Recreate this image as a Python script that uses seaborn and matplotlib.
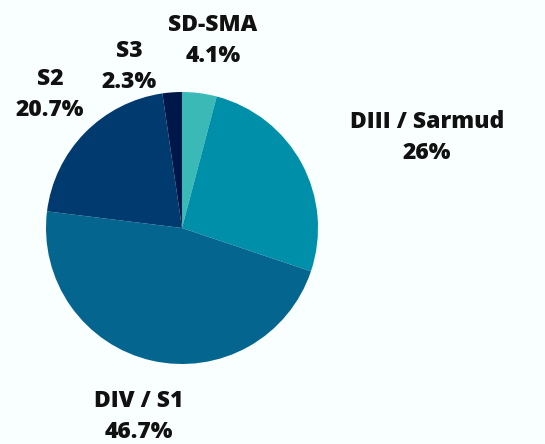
import matplotlib.pyplot as plt
import numpy as np
import seaborn as sns

# Data
categories = ['SD-SMA', 'DIII / Sarmud', 'DIV / S1', 'S2', 'S3']
shares = [4.1, 26, 46.7, 20.7, 2.3]
value_labels = ['4.1%', '26%', '46.7%', '20.7%', '2.3%']

colors = sns.color_palette(['#3bb9b7', '#008fa8', '#04668f', '#003a6e', '#001849'])
# label distance (in radii) and extra angle shift per slice
label_dist = [1.40, 1.92, 1.42, 1.38, 1.25]
label_shift = [-2, -8, 0, -1, 14]

sns.set_theme(style='white')
plt.rcParams['font.family'] = ['Open Sans', 'DejaVu Sans']
bg = '#f9feff'

fig = plt.figure(figsize=(5.45, 4.44), dpi=100, facecolor=bg)
W, H = 545, 444
cx, cy, r = 182, 216, 136
ax = fig.add_axes([(cx - r) / W, (cy - r) / H, 2 * r / W, 2 * r / H])
ax.set_facecolor(bg)

wedges, _ = ax.pie(shares, colors=colors, startangle=90, counterclock=False,
                   radius=1, wedgeprops=dict(linewidth=0))
ax.set_xlim(-1, 1)
ax.set_ylim(-1, 1)
ax.set_aspect('equal')
ax.axis('off')

for w, cat, lab, d, s in zip(wedges, categories, value_labels, label_dist, label_shift):
    ang = np.deg2rad((w.theta1 + w.theta2) / 2 + s)
    ax.text(d * np.cos(ang), d * np.sin(ang), f'{cat}\n{lab}',
            ha='center', va='center', fontsize=16.5, fontweight='heavy',
            color='#111111', linespacing=1.4, clip_on=False)

fig.savefig('out.png', dpi=100, facecolor=bg)
